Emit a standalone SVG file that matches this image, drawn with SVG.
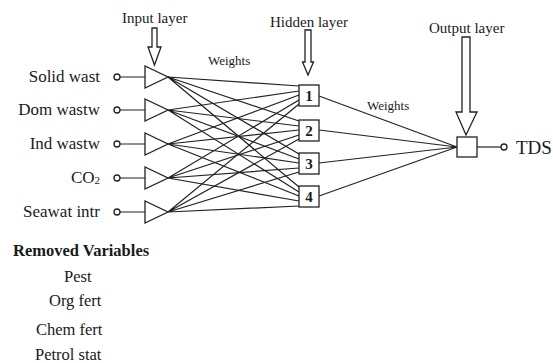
<svg xmlns="http://www.w3.org/2000/svg" width="553" height="363" viewBox="0 0 553 363">
<style>
.t{font-family:"Liberation Serif","Times New Roman",serif;fill:#1a1a1a}
.lbl{font-size:17px}
.hdr{font-size:15px}
.w{font-size:13px}
.s{stroke:#222;stroke-width:1.2;fill:none}
.n{stroke:#222;stroke-width:1.3;fill:#fff}
.num{font-size:15px;font-weight:bold}
</style>
<rect width="553" height="363" fill="#fff"/>
<g id="connectors" class="s">
<!-- input to hidden -->
<path d="M168 77L299 86M168 77L299 121M168 77L299 154M168 77L299 187"/>
<path d="M168 110L299 91M168 110L299 126M168 110L299 159M168 110L299 192"/>
<path d="M168 144L299 95M168 144L299 130M168 144L299 163M168 144L299 196"/>
<path d="M168 178L299 100M168 178L299 135M168 178L299 168M168 178L299 201"/>
<path d="M168 212L299 104M168 212L299 139M168 212L299 172M168 212L299 206"/>
<!-- hidden to output -->
<path d="M319 96L457 147M319 130L457 147M319 163L457 147M319 196L457 147"/>
<!-- input stubs -->
<path d="M120 77H145M120 110H145M120 144H145M120 178H145M120 212H145"/>
<path d="M477 147H501"/>
</g>
<g id="arrows" class="n" stroke-linejoin="miter">
<path d="M152 28H157V47H161L154.5 65L148 47H152Z"/>
<path d="M305 30H311V62H313.5L308 75L302.5 62H305Z"/>
<path d="M462 37H470V112H477L466 135L456 112H462Z"/>
</g>
<g id="input-solid-wast">
<circle cx="117" cy="77" r="3" class="n"/>
<path d="M145 66L145 88L168 77Z" class="n"/>
<text x="100" y="82" class="t lbl" text-anchor="end">Solid wast</text>
</g>
<g id="input-dom-wastw">
<circle cx="117" cy="110" r="3" class="n"/>
<path d="M145 99L145 121L168 110Z" class="n"/>
<text x="100" y="115" class="t lbl" text-anchor="end">Dom wastw</text>
</g>
<g id="input-ind-wastw">
<circle cx="117" cy="144" r="3" class="n"/>
<path d="M145 133L145 155L168 144Z" class="n"/>
<text x="100" y="149" class="t lbl" text-anchor="end">Ind wastw</text>
</g>
<g id="input-co2">
<circle cx="117" cy="178" r="3" class="n"/>
<path d="M145 167L145 189L168 178Z" class="n"/>
<text x="100" y="183" class="t lbl" text-anchor="end">CO<tspan font-size="11px" dy="1">2</tspan></text>
</g>
<g id="input-seawat-intr">
<circle cx="117" cy="212" r="3" class="n"/>
<path d="M145 201L145 223L168 212Z" class="n"/>
<text x="100" y="217" class="t lbl" text-anchor="end">Seawat intr</text>
</g>
<g id="hidden-1">
<rect x="299" y="85" width="20" height="21" class="n"/>
<text x="309" y="101" class="t num" text-anchor="middle">1</text>
</g>
<g id="hidden-2">
<rect x="299" y="120" width="20" height="21" class="n"/>
<text x="309" y="136" class="t num" text-anchor="middle">2</text>
</g>
<g id="hidden-3">
<rect x="299" y="153" width="20" height="21" class="n"/>
<text x="309" y="169" class="t num" text-anchor="middle">3</text>
</g>
<g id="hidden-4">
<rect x="299" y="186" width="20" height="21" class="n"/>
<text x="309" y="202" class="t num" text-anchor="middle">4</text>
</g>
<g id="output">
<rect x="457" y="137" width="20" height="20" class="n"/>
<circle cx="504" cy="147" r="3" class="n"/>
<text x="516" y="154" class="t" font-size="19px">TDS</text>
</g>
<g id="labels">
<text x="122" y="23" class="t hdr">Input layer</text>
<text x="270" y="27" class="t hdr">Hidden layer</text>
<text x="429" y="33" class="t hdr">Output layer</text>
<text x="208" y="65" class="t w">Weights</text>
<text x="367" y="110" class="t w">Weights</text>
</g>
<g id="removed-variables">
<text x="13" y="256" class="t" font-size="16.5px" font-weight="bold">Removed Variables</text>
<text x="64" y="282" class="t" font-size="16.5px">Pest</text>
<text x="49" y="306" class="t" font-size="16.5px">Org fert</text>
<text x="36" y="335" class="t" font-size="16.5px">Chem fert</text>
<text x="35" y="360" class="t" font-size="16.5px">Petrol stat</text>
</g>
</svg>
